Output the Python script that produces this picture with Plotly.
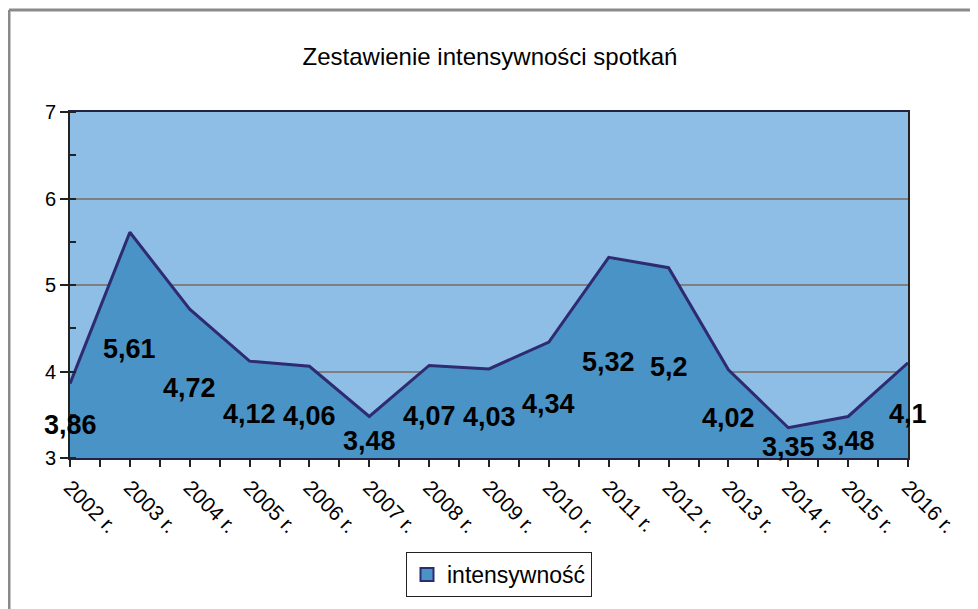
import plotly.graph_objects as go

categories = ["2002 r.", "2003 r.", "2004 r.", "2005 r.", "2006 r.", "2007 r.", "2008 r.",
              "2009 r.", "2010 r.", "2011 r.", "2012 r.", "2013 r.", "2014 r.", "2015 r.", "2016 r."]
values = [3.86, 5.61, 4.72, 4.12, 4.06, 3.48, 4.07, 4.03, 4.34, 5.32, 5.2, 4.02, 3.35, 3.48, 4.1]
y_ticks = [3, 4, 5, 6, 7]
series_name = "intensywność"
title_text = "Zestawienie intensywności spotkań"

Y_MIN, Y_MAX = 3, 7
idx = list(range(len(categories)))
labels = [str(v).replace(".", ",") for v in values]
label_y = [(v + Y_MIN) / 2 for v in values]

FILL = "#4A93C7"
LINE = "#2E2B70"
BG = "#8EBEE6"
FONT = "Arial, Liberation Sans, sans-serif"

# page body offset (browser default margin)
OFF = 8
W, H = 978, 609
# target plot area in screen pixels
PX0, PX1, PY0, PY1 = 70, 908, 112, 458
L, T = PX0 - OFF, PY0 - OFF
pw, ph = PX1 - PX0, PY1 - PY0
R = W - L - pw
B = H - T - ph

fig = go.Figure()
fig.add_trace(go.Scatter(
    x=idx, y=values, mode="lines", fill="tozeroy", fillcolor=FILL,
    line=dict(color=LINE, width=3), showlegend=False, hoverinfo="skip",
))
fig.add_trace(go.Scatter(
    x=[None], y=[None], mode="markers", name=series_name,
    marker=dict(symbol="square", size=13, color=FILL, line=dict(color=LINE, width=2)),
))

annotations = [
    dict(x=xi, y=yi, xref="x", yref="y", text=t, showarrow=False,
         xanchor="center", yanchor="middle", yshift=-4,
         font=dict(family=FONT, size=27, color="black", weight="bold"))
    for xi, yi, t in zip(idx, label_y, labels)
]

fig.update_layout(
    width=W, height=H,
    margin=dict(l=L, r=R, t=T, b=B),
    paper_bgcolor="white", plot_bgcolor=BG,
    font=dict(family=FONT, color="black"),
    title=dict(text=title_text, x=(490 - PX0) / pw, xref="paper", xanchor="center",
               y=1 - (57 - OFF) / H, yanchor="middle",
               font=dict(size=24, color="black", family=FONT)),
    showlegend=True,
    legend=dict(
        x=(499 - PX0) / pw, xanchor="center", y=(PY1 - 552) / ph,
        yanchor="top", orientation="h",
        bordercolor="#222222", borderwidth=1, bgcolor="white",
        font=dict(size=23, family=FONT, color="black"),
        itemsizing="trace", itemwidth=30,
    ),
    annotations=annotations,
    shapes=[
        dict(type="line", xref="paper", yref="paper",
             x0=(OFF + 1 - PX0) / pw, x1=(W + 30 - PX0) / pw,
             y0=1 + (PY0 - 10) / ph, y1=1 + (PY0 - 10) / ph,
             line=dict(color="#8a8a8a", width=3)),
        dict(type="line", xref="paper", yref="paper",
             x0=(OFF + 1 - PX0) / pw, x1=(OFF + 1 - PX0) / pw,
             y0=1 + (PY0 - 10) / ph, y1=-(H - PY1 + 30) / ph,
             line=dict(color="#8a8a8a", width=3)),
    ],
)

fig.update_xaxes(
    range=[0, len(categories) - 1], tickmode="array", tickvals=idx, ticktext=categories,
    tickangle=45, ticks="outside", ticklen=7, tickwidth=2, tickcolor="#222222",
    minor=dict(ticks="outside", dtick=0.5, tick0=0, ticklen=7, tickwidth=2, tickcolor="#222222"),
    showgrid=False, zeroline=False,
    showline=True, linecolor="#222244", linewidth=2, mirror=True,
    tickfont=dict(size=21, family=FONT, color="black"),
    fixedrange=True,
)
fig.update_yaxes(
    range=[Y_MIN, Y_MAX], tickmode="array", tickvals=y_ticks,
    ticks="outside", ticklen=8, tickwidth=2, tickcolor="#222222",
    minor=dict(ticks="inside", dtick=0.5, tick0=0, ticklen=6, tickwidth=2, tickcolor="#222222", showgrid=False),
    showgrid=True, gridcolor="#7f7f7f", gridwidth=2, zeroline=False,
    showline=True, linecolor="#222222", linewidth=2, mirror=True,
    tickfont=dict(size=20, family=FONT, color="black"),
    fixedrange=True,
)

fig.write_html("out.html")
